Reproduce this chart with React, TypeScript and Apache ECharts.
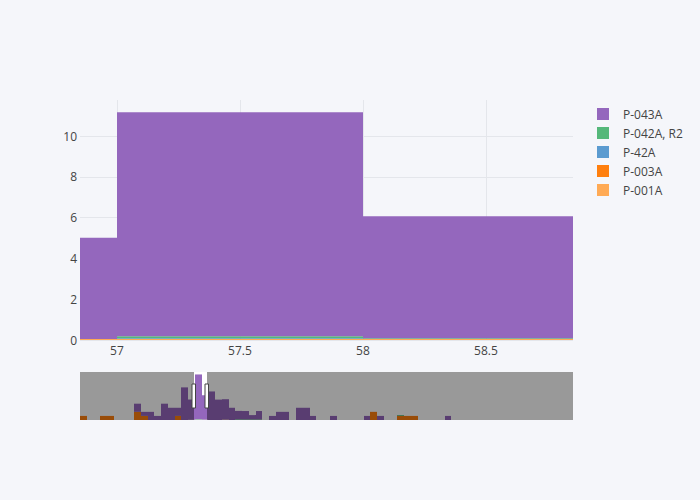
import React, { useEffect, useRef } from 'react';
import * as echarts from 'echarts';

// ---- data (bin start -> value), bin width 1 ----
const BIN_FIRST = 40;
const BIN_LAST_END = 113;
const BIN_WIDTH = 1;

const P_043A: [number, number][] = [
  [48, 2], [49, 1], [50, 2], [51, 1], [52, 4], [53, 3], [54, 2], [55, 8],
  [56, 4.97], [57, 10.98], [58, 5.99], [59, 7], [60, 5], [61, 5], [62, 3],
  [63, 2.05], [64, 2.05], [65, 1.05], [66, 2.05], [68, 1], [69, 2], [70, 2],
  [72, 3], [73, 3], [74, 1], [77, 1], [82, 1], [84, 1], [94, 1],
];
const P_042A_R2: [number, number][] = [
  [57, 0.11], [58, 0.03], [63, 0.15], [64, 0.15], [65, 0.15], [66, 0.15], [87, 0.2],
];
const P_42A: [number, number][] = [
  [57, 0.03], [63, 0.03],
];
const P_003A: [number, number][] = [
  [40, 1], [43, 1], [44, 1], [48, 2], [49, 1], [54, 1], [83, 2], [87, 1], [88, 1], [89, 1],
];
const P_001A: [number, number][] = [
  [56, 0.05], [57, 0.05], [58, 0.05], [61, 0.1],
];

const LEGEND_NAMES = ['P-043A', 'P-042A, R2', 'P-42A', 'P-003A', 'P-001A'];
const TRACE_COLORS: Record<string, string> = {
  'P-043A': '#9467bd',
  'P-042A, R2': '#55b87a',
  'P-42A': '#5b9bd0',
  'P-003A': '#ff7f0e',
  'P-001A': '#ffaa55',
};
// stacking order, bottom to top
const STACK: [string, [number, number][]][] = [
  ['P-001A', P_001A],
  ['P-003A', P_003A],
  ['P-42A', P_42A],
  ['P-042A, R2', P_042A_R2],
  ['P-043A', P_043A],
];

const X_SPLIT_NUMBER = 5;
const Y_TICK_INTERVAL = 2;
const Y_MAX = 11.77;
const WIN_START = 56.85;
const WIN_END = 58.854;

const FONT = "'Open Sans', verdana, arial, sans-serif";

function buildRects() {
  const out: Record<string, number[][]> = {};
  STACK.forEach(([n]) => (out[n] = []));
  for (let b = BIN_FIRST; b < BIN_LAST_END; b += BIN_WIDTH) {
    let base = 0;
    STACK.forEach(([name, arr]) => {
      const hit = arr.find((p) => p[0] === b);
      if (hit && hit[1] > 0) {
        out[name].push([b, b + BIN_WIDTH, base, base + hit[1]]);
        base += hit[1];
      }
    });
  }
  return out;
}

const renderBar = (params: any, api: any) => {
  const a = api.coord([api.value(0), api.value(2)]);
  const b = api.coord([api.value(1), api.value(3)]);
  const cs = params.coordSys;
  const x0 = Math.round(a[0]);
  const x1 = Math.round(b[0]);
  const rect = echarts.graphic.clipRectByRect(
    { x: x0, y: b[1], width: x1 - x0, height: a[1] - b[1] },
    { x: cs.x, y: cs.y, width: cs.width, height: cs.height }
  );
  if (!rect) return null;
  return { type: 'rect', shape: rect, style: { fill: api.visual('color') } };
};

export default function App() {
  const ref = useRef<HTMLDivElement>(null);
  useEffect(() => {
    if (!ref.current) return;
    const chart = echarts.init(ref.current, undefined, { renderer: 'svg' });
    const rects = buildRects();
    const series: any[] = [];
    STACK.forEach(([name]) => {
      const color = TRACE_COLORS[name];
      series.push({
        type: 'custom', name, xAxisIndex: 0, yAxisIndex: 0,
        renderItem: renderBar, itemStyle: { color },
        encode: { x: [0, 1], y: [2, 3] }, data: rects[name], z: 2, silent: true,
      });
      series.push({
        type: 'custom', name, xAxisIndex: 1, yAxisIndex: 1,
        renderItem: renderBar, itemStyle: { color },
        encode: { x: [0, 1], y: [2, 3] }, data: rects[name], z: 2, silent: true,
      });
    });
    // range slider mask
    series.push({
      type: 'custom', name: 'mask', xAxisIndex: 1, yAxisIndex: 1, z: 5, silent: true,
      itemStyle: { color: 'rgba(0,0,0,0.4)' },
      encode: { x: [0, 1], y: [2, 3] },
      renderItem: renderBar,
      data: [
        [BIN_FIRST, WIN_START, 0, Y_MAX],
        [WIN_END, BIN_LAST_END, 0, Y_MAX],
      ],
    });
    // range slider handles
    series.push({
      type: 'custom', name: 'handles', xAxisIndex: 1, yAxisIndex: 1, z: 6, silent: true,
      encode: { x: 0 },
      data: [[WIN_START], [WIN_END]],
      renderItem: (params: any, api: any) => {
        const c = api.coord([api.value(0), Y_MAX / 2]);
        const h = params.coordSys.height / 2;
        return {
          type: 'rect',
          shape: { x: Math.round(c[0]) - 2, y: c[1] - h / 2, width: 3.5, height: h },
          style: { fill: '#fff', stroke: '#444', lineWidth: 1 },
        };
      },
    });

    chart.setOption({
      animation: false,
      backgroundColor: '#f5f6fa',
      textStyle: { fontFamily: FONT },
      legend: {
        data: LEGEND_NAMES,
        orient: 'vertical',
        left: 597,
        top: 108,
        itemWidth: 12,
        itemHeight: 12,
        itemGap: 7,
        icon: 'rect',
        padding: 0,
        textStyle: { fontSize: 12, color: '#444', fontFamily: FONT, padding: [0, 0, 0, 9] },
      },
      grid: [
        { left: 80, top: 100, width: 493, height: 240, containLabel: false },
        { left: 80, top: 372, width: 493, height: 48, show: true, backgroundColor: '#fff', borderWidth: 0 },
      ],
      xAxis: [
        {
          type: 'value', gridIndex: 0, min: WIN_START, max: WIN_END, splitNumber: X_SPLIT_NUMBER,
          axisLine: { show: false }, axisTick: { show: false },
          axisLabel: { color: '#444', fontSize: 12, margin: 4, showMinLabel: false, showMaxLabel: false, fontFamily: FONT },
          splitLine: { show: true, lineStyle: { color: '#e4e6eb', width: 1 }, showMinLine: false, showMaxLine: false },
        },
        {
          type: 'value', gridIndex: 1, min: BIN_FIRST, max: BIN_LAST_END, show: false,
          splitLine: { show: false },
        },
      ],
      yAxis: [
        {
          type: 'value', gridIndex: 0, min: 0, max: Y_MAX, interval: Y_TICK_INTERVAL,
          axisLine: { show: false }, axisTick: { show: false },
          axisLabel: { color: '#444', fontSize: 12, margin: 3, showMaxLabel: false, fontFamily: FONT },
          splitLine: { show: true, lineStyle: { color: '#e4e6eb', width: 1 }, showMaxLine: false },
        },
        {
          type: 'value', gridIndex: 1, min: 0, max: Y_MAX, show: false,
          splitLine: { show: false },
        },
      ],
      series,
    });
    return () => chart.dispose();
  }, []);
  return (
    <div
      ref={ref}
      style={{ position: 'fixed', left: 0, top: 0, width: 700, height: 500 }}
    />
  );
}
